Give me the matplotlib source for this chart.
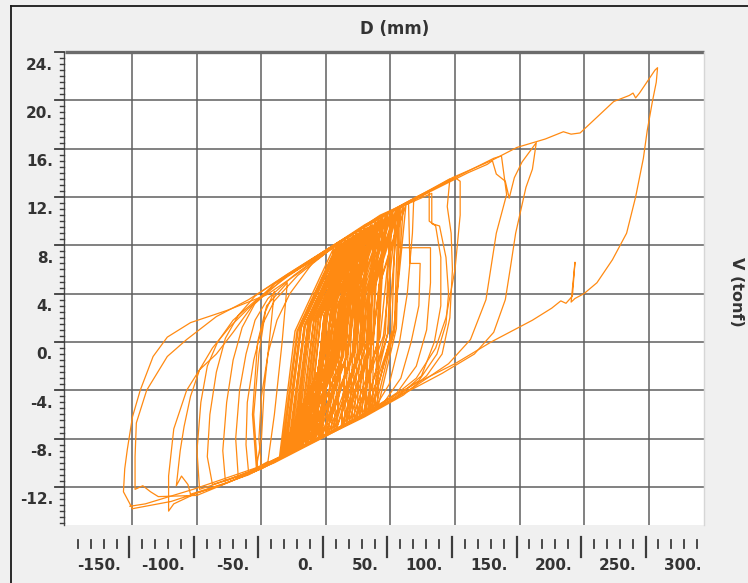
import numpy as np
import matplotlib
matplotlib.use("Agg")
import matplotlib.pyplot as plt

# ---------------------------------------------------------------------------
# Hysteresis record: D (mm) vs V (tonf), split into stages of the test
# ---------------------------------------------------------------------------
# small, dense cycles around the origin (neg. peak, up-branch, pos. peak, down-branch)
core_pts = [
    (-5, -7.9), (3.5, 2.5), (30, 9.35), (16, -1.1),
    (-10, -8.1), (-0.5, 2.3), (27, 9.2), (12.5, -1.3),
    (-14, -8.35), (-4, 2.1), (24, 9.0), (8, -1.6),
    (-20, -8.7), (-8, 1.8), (22, 8.8), (5, -1.8),
    (-24, -8.9), (-13, 1.5), (16, 8.4), (0, -2.1),
    (-28, -9.1), (-16, 1.3), (14, 8.3), (-3, -2.3),
    (-32, -9.3), (-20, 1.1), (10, 8.05), (-6.5, -2.5),
    (-35, -9.5), (-22.5, 0.9), (8, 7.9), (-6.5, -2.5),
    (-33, -9.35), (-19.5, 1.2), (12, 8.2), (-3, -2.2),
    (-30, -9.2), (-16.5, 1.4), (15, 8.4), (0.5, -2.0),
    (-26, -9.0), (-12.5, 1.6), (19, 8.6), (4.5, -1.8),
    (-22, -8.8), (-9.5, 1.8), (21, 8.8), (7.5, -1.6),
    (-18, -8.55), (-6, 2.0), (24, 9.0), (12, -1.3),
    (-12, -8.2), (-1.5, 2.2), (27, 9.2), (16.5, -1.1),
    (-6, -7.9), (3.5, 2.5), (31, 9.4), (21.5, -0.8),
    (0, -7.6), (7.5, 2.7), (33, 9.5), (25.5, -0.6),
    (6, -7.3), (13, 3.0), (38, 9.9), (31, -0.2),
    (12, -7.0), (18, 3.3), (42, 10.1), (36, 0.0),
    (18, -6.65), (23, 3.6), (46, 10.4), (41, 0.4),
    (24, -6.3), (28, 3.9), (50, 10.65), (46, 0.7),
    (30, -6.0), (33, 4.1), (54, 10.9), (51, 0.9),
    (36, -5.7), (37.5, 4.4), (57, 11.1), (54.5, 1.1),
    (40, -5.5), (41, 4.6), (60, 11.3), (53, 1.0),
    (34, -5.8), (36, 4.3), (56, 11.0), (48, 0.7),
    (28, -6.1), (31, 4.0), (52, 10.8), (42, 0.4),
    (20, -6.5), (24.5, 3.7), (47, 10.5), (36.5, 0.1),
    (14, -6.85), (19.5, 3.4), (43, 10.2), (31.5, -0.2),
    (8, -7.2), (15, 3.1), (40, 10.0), (27, -0.5),
    (2, -7.5), (9.5, 2.8), (35, 9.7), (21.5, -0.8),
    (-4, -7.8), (4, 2.5), (30, 9.35), (16.5, -1.1),
    (-9, -8.1), (0.5, 2.3), (28, 9.2), (12.5, -1.4),
    (-15, -8.4), (-4, 2.0), (25, 9.0), (8, -1.6),
    (-21, -8.7), (-9.5, 1.7), (20, 8.7), (2.5, -1.9),
    (-27, -9.0), (-14, 1.5), (17, 8.5), (-1, -2.1),
    (-31, -9.2), (-19, 1.2), (11, 8.1), (-6.5, -2.5),
    (-36, -9.5), (-24, 0.9), (6, 7.8), (-5.5, -2.3),
    (-29, -9.1), (-17, 1.3), (13, 8.2), (1, -2.0),
    (-23, -8.8), (-11.5, 1.6), (18, 8.6), (7, -1.6),
    (-16, -8.45), (-5.5, 2.0), (23, 8.9), (13.5, -1.2),
    (-8, -8.0), (1.5, 2.4), (29, 9.3), (20.5, -0.8),
    (0, -7.6), (8, 2.7), (34, 9.6), (27, -0.5),
    (8, -7.2), (14.5, 3.1), (39, 9.9), (33.5, -0.1),
    (16, -6.75), (21, 3.5), (44, 10.3), (41, 0.4),
    (26, -6.2), (29.5, 3.9), (51, 10.7), (48, 0.8),
    (33, -5.85), (35.5, 4.3), (56, 11.0), (53, 1.0),
    (38, -5.6), (41, 4.6), (62, 11.4), (52.5, 1.0),
    (31, -5.95), (34, 4.2), (55, 11.0), (44.5, 0.5),
    (22, -6.45), (26, 3.7), (48, 10.5), (36, 0.0),
    (12, -7.0), (17.5, 3.3), (41, 10.1), (28.5, -0.4),
    (4, -7.4), (11, 2.9), (36, 9.7), (22.5, -0.8),
    (-3, -7.8), (5.5, 2.6), (32, 9.5), (16.5, -1.1),
    (-11, -8.2), (-1.5, 2.2), (26, 9.1), (9.5, -1.5),
    (-19, -8.6), (-7.5, 1.8), (22, 8.8), (4.5, -1.8),
    (-25, -8.9), (-14, 1.5), (15, 8.4), (-3.5, -2.3),
    (-34, -9.4), (-21.5, 1.0), (9, 8.0), (3, -2.4),
    (-10, -8.2),
]

# intermediate cycles
mid_pts = [
    (-10, -8.2), (-36, -9.6), (-50, -10.3),
    (-52, -8.0), (-50, -4.5), (-45, -1.0), (-38, 1.8), (-28, 4.0), (-10, 6.6),
    (20, 8.9), (45, 10.5), (68, 11.8), (67, 9.0), (63, 4.0), (57, 0.0),
    (49, -3.5), (37, -5.6), (0, -7.6), (-30, -9.2), (-53, -10.4),
    (-56, -6.0), (-52, -1.0), (-47, 2.5), (-40, 4.2), (-44, 0.0), (-48, -4.0),
    (-50, -8.0), (-54, -10.4), (-57, -6.0), (-53, 0.0), (-46, 3.0), (-30, 4.9),
    (-34, 0.0), (-40, -6.0), (-45, -9.9), (-60, -10.8),
    (-62, -8.5), (-61, -5.0), (-56, -1.5), (-49, 1.5), (-40, 3.4), (-22, 5.5),
    (10, 8.2), (40, 10.3), (65, 11.6), (80, 12.4), (80, 10.0), (85, 9.6),
    (89, 7.0), (89, 3.0), (84, 0.0), (74, -2.8), (55, -4.6), (30, -6.1),
    (0, -7.7), (-30, -9.3), (-55, -10.6), (-68, -11.2),
    (-70, -8.0), (-67, -4.0), (-62, -1.0), (-55, 1.8), (-45, 3.6), (-25, 5.5),
    (0, 7.5), (30, 9.6), (60, 11.4), (96, 13.5), (94, 11.2), (97, 9.0),
    (98, 6.0), (96, 2.0), (90, -1.0), (78, -2.8), (60, -4.4), (30, -6.2),
    (-10, -8.3), (-45, -10.1), (-78, -11.5),
    (-80, -9.0), (-77, -5.0), (-72, -1.5), (-65, 1.2), (-55, 3.2), (-40, 4.8),
    (-10, 6.8), (25, 9.2), (50, 10.8), (82, 12.3), (82, 9.8), (88, 9.6),
    (93, 7.0), (95, 4.0), (93, 1.5), (86, -1.0), (72, -3.2), (50, -4.8),
    (20, -6.5), (-20, -8.7), (-60, -10.8), (-88, -11.8),
    (-92, -9.5), (-90, -6.0), (-85, -2.5), (-78, 0.3), (-68, 2.2), (-55, 3.8),
    (-30, 5.6), (0, 7.6), (40, 10.3), (58, 11.2), (57, 7.8), (81, 7.8),
    (81, 4.9), (78, 1.0), (70, -2.0), (55, -4.2), (30, -6.0), (-10, -8.2),
    (-50, -10.5), (-98, -12.2),
    (-100, -9.0), (-97, -5.0), (-92, -2.0), (-84, 0.0), (-72, 1.8), (-55, 3.4),
    (-30, 5.4), (0, 7.5), (30, 9.5), (64, 11.5), (65, 6.5), (73, 6.5),
    (72, 3.0), (66, 0.0), (58, -3.0), (45, -5.0), (10, -7.1), (-30, -9.4),
    (-75, -11.6), (-105, -12.6),
]

# large cycles
outer_pts = [
    (-105, -12.6), (-107, -11.8), (-112, -11.1), (-116, -11.9), (-113, -9.0),
    (-110, -7.0), (-105, -4.5), (-98, -2.3), (-88, -0.5), (-75, 1.2),
    (-60, 2.8), (-40, 4.8), (-10, 6.9), (30, 9.7), (70, 12.0), (100, 13.6),
    (104, 13.3), (104, 10.5), (100, 6.0), (93, 2.0), (85, -0.5), (70, -3.0),
    (50, -4.7), (20, -6.5), (-20, -8.8), (-60, -11.0), (-100, -12.5),
    (-118, -13.4), (-122, -14.0),
    (-122, -11.1), (-118, -7.2), (-108, -4.0), (-98, -2.3), (-85, -1.0),
    (-72, 0.8), (-57, 3.0), (-30, 5.5), (0, 7.6), (40, 10.2), (80, 12.4),
    (110, 14.0), (125, 14.7), (129, 15.0), (132, 13.9), (139, 13.3),
    (142, 11.9), (146, 13.6), (152, 14.9), (163, 16.5), (160, 14.3),
    (155, 12.8), (147, 9.0), (143, 6.2), (139, 3.5), (130, 0.8), (115, -1.0),
    (90, -2.6), (60, -4.3), (30, -6.0), (-10, -8.2), (-50, -10.5),
    (-100, -12.7), (-130, -12.8), (-136, -12.4), (-142, -11.9), (-148, -12.2),
    (-148, -9.5), (-147, -6.7), (-139, -4.0), (-123, -1.2), (-108, 0.2),
    (-85, 2.1), (-60, 3.5), (-30, 5.6), (10, 8.3), (60, 11.4), (100, 13.6),
    (130, 15.2), (136, 15.4), (140, 12.2), (132, 9.0), (124, 3.5), (112, 0.2),
    (95, -1.8), (70, -3.6), (40, -5.5), (0, -7.8), (-40, -10.0), (-80, -11.8),
    (-120, -13.2), (-140, -13.6), (-150, -13.8),
]

# final, largest excursion
final_pts = [
    (-150, -13.8), (-157, -12.4), (-156, -10.5), (-154, -8.9), (-150, -6.2),
    (-144, -4.0), (-134, -1.2), (-123, 0.4), (-105, 1.6), (-77, 2.6),
    (-46, 3.9), (-20, 5.8), (0, 7.5), (42, 10.5), (65, 11.6), (98, 13.6),
    (128, 15.0), (148, 16.1), (170, 16.8), (184, 17.4), (190, 17.2),
    (197, 17.3), (210, 18.6), (223, 19.9), (235, 20.4), (238, 20.6),
    (240, 20.2), (243, 20.6), (255, 22.5), (257, 22.7), (256, 21.5),
    (253, 19.9), (249, 17.5), (246, 15.2), (240, 12.0), (233, 9.0),
    (222, 6.8), (210, 4.9), (200, 4.0), (193, 3.6), (190, 3.3), (193, 6.6),
    (191, 3.8), (186, 3.2), (182, 3.4), (175, 2.8), (160, 1.8), (128, 0.0),
    (100, -1.8), (70, -3.4), (47, -4.8), (20, -6.5), (0, -7.7),
    (-51, -10.3), (-103, -12.2), (-140, -13.4), (-152, -13.6),
]

x_grid = [-150, -100, -50, 0, 50, 100, 150, 200, 250]
x_labels = [-150, -100, -50, 0, 50, 100, 150, 200, 250, 300]
y_grid = [-12, -8, -4, 0, 4, 8, 12, 16, 20]
y_labels = [-12, -8, -4, 0, 4, 8, 12, 16, 20, 24]

# ---------------------------------------------------------------------------
W, H = 748, 583
fig = plt.figure(figsize=(W / 100, H / 100), dpi=100, facecolor="#f0f0f0")

L, R, T, B = 65, 704, 52, 525
ax = fig.add_axes([L / W, 1 - B / H, (R - L) / W, (B - T) / H])
ax.set_facecolor("white")
ax.set_xlim(-202.3, 293)
ax.set_ylim(-15.15, 24)
ax.set_xticks([])
ax.set_yticks([])
for s in ax.spines.values():
    s.set_visible(False)

for gx in x_grid:
    ax.axvline(gx, color="#5f5f5f", lw=1.1, zorder=1)
for gy in y_grid:
    ax.axhline(gy, color="#5f5f5f", lw=1.1, zorder=1)

orange = "#ff8a12"
for pts, lw in ((core_pts, 1.0), (mid_pts, 0.9), (outer_pts, 0.9), (final_pts, 0.9)):
    arr = np.array(pts, dtype=float)
    ax.plot(arr[:, 0], arr[:, 1], color=orange, lw=lw, zorder=3,
            solid_joinstyle="round")

# overlay in pixel units for the rulers, frame and captions
ov = fig.add_axes([0, 0, 1, 1])
ov.set_xlim(0, W)
ov.set_ylim(H, 0)
ov.axis("off")

fig.canvas.draw()


def px_x(d):
    return ax.transData.transform((d, 0))[0]


def px_y(v):
    return H - ax.transData.transform((0, v))[1]


# outer frame
ov.plot([11, W], [6, 6], color="#1a1a1a", lw=1.3)
ov.plot([11, 11], [6, H], color="#1a1a1a", lw=1.3)

# plot-area edges
ov.plot([L, R], [T, T], color="#6c6c6c", lw=2.4, solid_capstyle="butt")
ov.plot([R, R], [T, B], color="#d6d6d6", lw=1.0)
ov.plot([L - 1, L - 1], [T, B], color="#4a4a4a", lw=1.0)

tick_col = "#3c3c3c"
font = dict(family="DejaVu Sans", fontweight="bold", color="#333333")

# left ruler
for k in range(-30, 49):
    v = k * 0.5
    y = px_y(v)
    if y > B + 0.5:
        continue
    if k % 8 == 0:
        ov.plot([L - 10, L - 1], [y, y], color=tick_col, lw=1.3)
    else:
        ov.plot([L - 5, L - 1], [y, y], color=tick_col, lw=1.0)
for v in y_labels:
    ov.text(53, px_y(v) + 13, f"{v}.", ha="right", va="center", fontsize=11, **font)

# bottom ruler
for d in range(-190, 291, 10):
    x = px_x(d) - 3
    if d % 50 == 0:
        ov.plot([x, x], [537, 557], color=tick_col, lw=1.6)
    else:
        ov.plot([x, x], [540, 548], color=tick_col, lw=1.3)
for d in x_labels:
    ov.text(px_x(d) - 12, 566, f"{d}.", ha="right", va="center", fontsize=11, **font)

# captions
ov.text(395, 29, "D (mm)", ha="center", va="center", fontsize=12, **font)
ov.text(737, 292, "V (tonf)", ha="center", va="center", rotation=-90, fontsize=11.5, **font)

fig.savefig("out.png", dpi=100, facecolor=fig.get_facecolor())
